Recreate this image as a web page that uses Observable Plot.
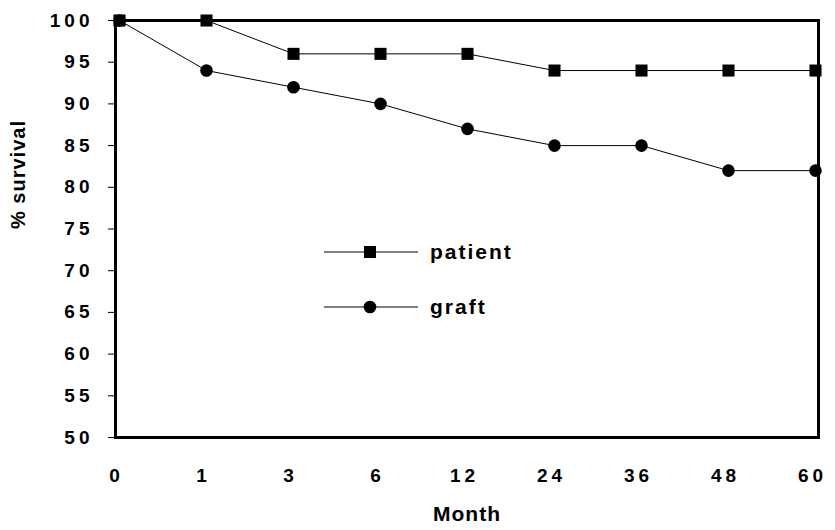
<!DOCTYPE html>
<html>
<head>
<meta charset="utf-8">
<script src="https://cdn.jsdelivr.net/npm/d3@7"></script>
<script src="https://cdn.jsdelivr.net/npm/@observablehq/plot@0.6"></script>
<style>
  html, body { margin: 0; padding: 0; background: #fff; }
  #wrap { position: relative; width: 835px; height: 530px; }
  #wrap svg text { font-family: "Liberation Sans", Arial, sans-serif; }
  g[aria-label="x-axis tick label"] text,
  g[aria-label="y-axis tick label"] text { letter-spacing: 4px; font-weight: bold; }
  #legend { position: absolute; left: 0; top: 0; pointer-events: none; }
</style>
</head>
<body>
<div id="wrap"></div>
<script>
const months = ["0", "1", "3", "6", "12", "24", "36", "48", "60"];
const patient = [100, 100, 96, 96, 96, 94, 94, 94, 94];
const graft = [100, 94, 92, 90, 87, 85, 85, 82, 82];
const yTicks = [50, 55, 60, 65, 70, 75, 80, 85, 90, 95, 100];
const seriesNames = ["patient", "graft"];
const seriesSymbols = ["square", "circle"];

const patientData = months.map((m, i) => ({month: m, value: patient[i]}));
const graftData = months.map((m, i) => ({month: m, value: graft[i]}));

const chart = Plot.plot({
  width: 835,
  height: 530,
  marginLeft: 115,
  marginRight: 17,
  marginTop: 20,
  marginBottom: 93,
  style: {fontFamily: "Liberation Sans, Arial, sans-serif", fontSize: "19px", fontWeight: "bold", color: "#000", background: "#fff"},
  x: {type: "point", domain: months, padding: 0, label: null},
  y: {domain: [50, 100], label: null},
  marks: [
    Plot.axisX({tickSize: 0, tickPadding: 31, dx: -3, fontSize: 19, label: null}),
    Plot.axisY({ticks: yTicks, tickSize: 7, tickPadding: 15, fontSize: 19, label: null, tickFormat: d => String(d)}),
    Plot.line(patientData, {x: "month", y: "value", stroke: "#000", strokeWidth: 1}),
    Plot.line(graftData, {x: "month", y: "value", stroke: "#000", strokeWidth: 1}),
    Plot.frame({stroke: "#000", strokeWidth: 3}),
    Plot.dot(patientData, {x: "month", y: "value", symbol: "square", r: 6.8, fill: "#000", stroke: "none"}),
    Plot.dot(graftData, {x: "month", y: "value", symbol: "circle", r: 6.3, fill: "#000", stroke: "none"}),
    Plot.text(["Month"], {frameAnchor: "bottom", dy: 83, text: d => d, fontSize: 21, fontWeight: "bold", fill: "#000"}),
    Plot.text(["% survival"], {frameAnchor: "left", dx: -97, rotate: -90, text: d => d, fontSize: 20, fontWeight: "bold", fill: "#000"})
  ]
});
document.getElementById("wrap").appendChild(chart);
d3.select(chart).selectAll("text").filter(function() { return this.textContent === "Month" || this.textContent === "% survival"; })
  .style("letter-spacing", "1px");

// Legend overlay
const leg = d3.select("#wrap").append("svg")
  .attr("id", "legend").attr("width", 835).attr("height", 530);
const legendRows = [252, 307];
seriesNames.forEach((name, i) => {
  const g = leg.append("g").attr("transform", `translate(0,${legendRows[i]})`);
  g.append("line").attr("x1", 324).attr("x2", 418).attr("y1", 0).attr("y2", 0)
    .attr("stroke", "#000").attr("stroke-width", 1);
  g.append("path").attr("transform", "translate(370,0)")
    .attr("d", d3.symbol(seriesSymbols[i] === "square" ? d3.symbolSquare : d3.symbolCircle, i === 0 ? Math.PI * 6.8 * 6.8 : Math.PI * 6.3 * 6.3)())
    .attr("fill", "#000");
  g.append("text").attr("x", 430).attr("y", 0).attr("dy", "0.35em")
    .attr("font-size", 21).attr("font-weight", "bold").attr("letter-spacing", "2px")
    .attr("fill", "#000").text(name);
});
</script>
</body>
</html>
